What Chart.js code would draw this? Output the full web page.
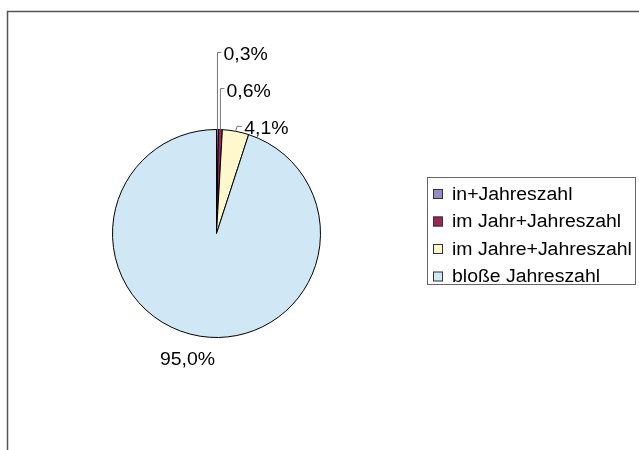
<!DOCTYPE html>
<html>
<head>
<meta charset="utf-8">
<script src="https://cdn.jsdelivr.net/npm/chart.js@4"></script>
<style>
  body { margin: 0; background: #fff; }
  canvas { display: block; }
</style>
</head>
<body>
<canvas id="chart" width="639" height="450"></canvas>
<script>
// Anteile der Schreibweisen (in Prozent)
const categories = ['in+Jahreszahl', 'im Jahr+Jahreszahl', 'im Jahre+Jahreszahl', 'bloße Jahreszahl'];
const shares = [0.3, 0.6, 4.1, 95.0];
const sliceColors = ['#928ec4', '#99285a', '#fff8cc', '#d0e8f5'];

const FONT = '18px "Liberation Sans", Arial, sans-serif';
const TEXT_STRETCH = 1.08;

function formatPercent(v) {
    return v.toFixed(1).replace('.', ',') + '%';
}

// Slightly wide text, anchored on its left edge (or centre)
function wideText(ctx, text, x, y, align) {
    const w = ctx.measureText(text).width * TEXT_STRETCH;
    const left = align === 'center' ? x - w / 2 : x;
    ctx.save();
    ctx.textAlign = 'left';
    ctx.translate(left, y);
    ctx.scale(TEXT_STRETCH, 1);
    ctx.fillText(text, 0, 0);
    ctx.restore();
}

// Leader line per label: rise above the slice edge, then a short horizontal run
const leaders = [
    { rise: 77, run: 4, lean: 0 },
    { rise: 41, run: 4, lean: 0 },
    { rise: 5, run: 5, lean: 1.5 },
    null
];

// Frame lines (top and left only)
const framePlugin = {
    id: 'frame',
    beforeDraw(chart) {
        const ctx = chart.ctx;
        ctx.save();
        ctx.fillStyle = '#fff';
        ctx.fillRect(0, 0, chart.width, chart.height);
        ctx.strokeStyle = '#555';
        ctx.lineWidth = 1.5;
        ctx.beginPath();
        ctx.moveTo(7.5, chart.height);
        ctx.lineTo(7.5, 11.5);
        ctx.lineTo(chart.width, 11.5);
        ctx.stroke();
        ctx.restore();
    }
};

// Percent labels with leader lines
const labelPlugin = {
    id: 'pieLabels',
    afterDatasetsDraw(chart) {
        const ctx = chart.ctx;
        const arcs = chart.getDatasetMeta(0).data;
        ctx.save();
        ctx.font = FONT;
        ctx.fillStyle = '#000';
        ctx.textBaseline = 'middle';
        arcs.forEach((arc, i) => {
            const mid = (arc.startAngle + arc.endAngle) / 2;
            const r = arc.outerRadius;
            const ex = arc.x + Math.cos(mid) * r;
            const ey = arc.y + Math.sin(mid) * r;
            const text = formatPercent(shares[i]);
            const lead = leaders[i];
            if (lead) {
                const ty = ey - lead.rise;
                const kx = ex + lead.lean;
                ctx.strokeStyle = '#777';
                ctx.lineWidth = 1;
                ctx.beginPath();
                ctx.moveTo(ex, ey);
                ctx.lineTo(kx, ty);
                ctx.lineTo(kx + lead.run, ty);
                ctx.stroke();
                wideText(ctx, text, kx + lead.run + 2, ty + 3, 'left');
            } else {
                const lx = arc.x + Math.cos(mid) * (r + 24) - 9;
                const ly = arc.y + Math.sin(mid) * (r + 24);
                wideText(ctx, text, lx, ly, 'center');
            }
        });
        ctx.restore();
    }
};

// Legend box on the right
const legendPlugin = {
    id: 'boxLegend',
    afterDraw(chart) {
        const ctx = chart.ctx;
        const box = { x: 427.5, y: 177.5, w: 208, h: 107 };
        ctx.save();
        ctx.strokeStyle = '#666';
        ctx.lineWidth = 1;
        ctx.strokeRect(box.x, box.y, box.w, box.h);
        ctx.font = FONT;
        ctx.textBaseline = 'middle';
        categories.forEach((name, i) => {
            const cy = 194 + i * 27.5;
            ctx.fillStyle = sliceColors[i];
            ctx.fillRect(433, cy - 5, 10, 10);
            ctx.strokeStyle = '#333';
            ctx.strokeRect(433.5, cy - 4.5, 9, 9);
            ctx.fillStyle = '#000';
            wideText(ctx, name, 452, cy + 1, 'left');
        });
        ctx.restore();
    }
};

new Chart(document.getElementById('chart'), {
    type: 'pie',
    data: {
        labels: categories,
        datasets: [{
            data: shares,
            backgroundColor: sliceColors,
            borderColor: '#000',
            borderWidth: 1
        }]
    },
    options: {
        responsive: false,
        animation: false,
        layout: {
            padding: { left: 112, right: 318, top: 129, bottom: 112 }
        },
        plugins: {
            legend: { display: false },
            tooltip: { enabled: false }
        }
    },
    plugins: [framePlugin, labelPlugin, legendPlugin]
});
</script>
</body>
</html>
